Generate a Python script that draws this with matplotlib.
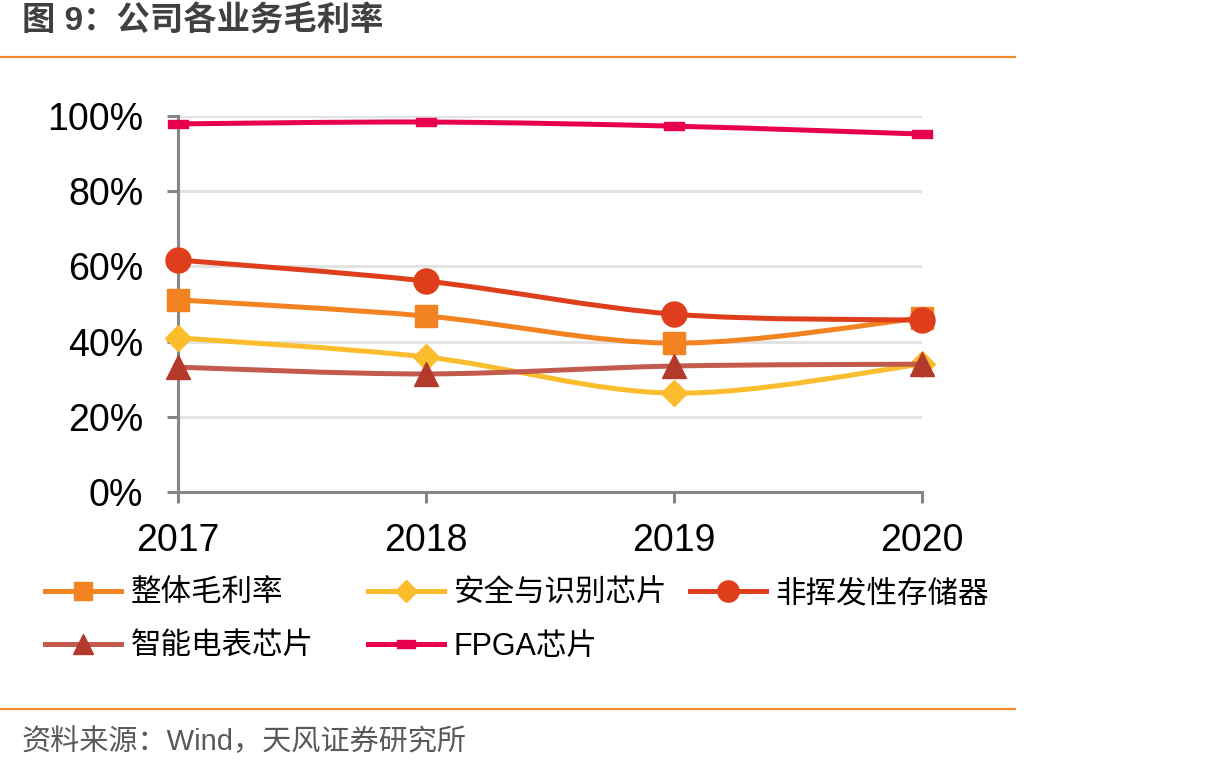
import numpy as np
import matplotlib
matplotlib.use("Agg")
import matplotlib.pyplot as plt
from matplotlib.path import Path
from matplotlib.patches import PathPatch
from matplotlib.lines import Line2D

plt.rcParams["font.family"] = ["Liberation Sans", "Noto Sans CJK SC"]

# === Data ===
years = ["2017", "2018", "2019", "2020"]
overall = [0.511, 0.468, 0.396, 0.463]     # 整体毛利率
security = [0.410, 0.359, 0.263, 0.340]    # 安全与识别芯片
memory = [0.617, 0.561, 0.473, 0.457]      # 非挥发性存储器
meter = [0.332, 0.314, 0.335, 0.340]       # 智能电表芯片
fpga = [0.979, 0.984, 0.973, 0.952]        # FPGA芯片

# short wide bar marker used by the FPGA series
DASH = Path([(-1, -0.42), (1, -0.42), (1, 0.42), (-1, 0.42), (-1, -0.42)],
            [Path.MOVETO, Path.LINETO, Path.LINETO, Path.LINETO, Path.CLOSEPOLY])

series = [
    ("整体毛利率", overall, "#F38321", "#F38321", "s", 16),
    ("安全与识别芯片", security, "#FBBC2D", "#FBBC2D", "D", 13),
    ("非挥发性存储器", memory, "#DE3E1B", "#DE3E1B", "o", 18),
    ("智能电表芯片", meter, "#C25B4E", "#B3392A", "^", 17),
    ("FPGA芯片", fpga, "#E8004F", "#E8004F", DASH, 15),
]


def smooth_path(xs, ys):
    """Catmull-Rom style cubic bezier through the points (Excel smoothed line look)"""
    pts = np.column_stack([xs, ys]).astype(float)
    ext = np.vstack([pts[0], pts, pts[-1]])
    verts = [pts[0]]
    codes = [Path.MOVETO]
    for i in range(len(pts) - 1):
        p0, p1, p2, p3 = ext[i], ext[i + 1], ext[i + 2], ext[i + 3]
        c1 = p1 + (p2 - p0) / 6.0
        c2 = p2 - (p3 - p1) / 6.0
        verts += [c1, c2, p2]
        codes += [Path.CURVE4] * 3
    return Path(verts, codes)


fig = plt.figure(figsize=(12.14, 7.72), dpi=100)
ax = fig.add_axes([178 / 1214, 1 - 492 / 772, (922 - 178) / 1214, (492 - 116) / 772])

x = np.arange(len(years))
for i, (name, vals, lc, mc, mk, ms) in enumerate(series):
    patch = PathPatch(smooth_path(x, vals), facecolor="none", edgecolor=lc,
                      lw=3.6, capstyle="round", zorder=3 + i, clip_on=False)
    ax.add_patch(patch)
    ax.plot(x, vals, ls="none", marker=mk, ms=ms, mfc=mc, mec=mc,
            zorder=3.5 + i, clip_on=False)

ax.set_xlim(0, 3)
ax.set_ylim(0, 1)
ax.set_xticks(x)
ax.set_xticklabels(years)
ax.set_yticks([0, 0.2, 0.4, 0.6, 0.8, 1.0])
ax.set_yticklabels(["0%", "20%", "40%", "60%", "80%", "100%"])
ax.yaxis.grid(True, color="#E3E3E3", lw=2.2)
ax.set_axisbelow(True)
for s in ["top", "right"]:
    ax.spines[s].set_visible(False)
for s in ["left", "bottom"]:
    ax.spines[s].set_color("#868686")
    ax.spines[s].set_linewidth(2.2)
ax.tick_params(axis="both", colors="#868686", width=2.2, length=8,
               labelsize=27, labelcolor="black")
ax.tick_params(axis="y", pad=17)
ax.tick_params(axis="x", pad=14)

# === Legend (Excel style fixed columns) ===
leg_pos = [(45, 594), (368, 594), (690, 594), (45, 647), (368, 647)]
for (name, vals, lc, mc, mk, ms), (px, py) in zip(series, leg_pos):
    h = Line2D([], [], color=lc, lw=3.6, marker=mk, ms=ms * 0.85, mfc=mc, mec=mc)
    fig.legend(handles=[h], labels=[name], loc="center left",
               bbox_to_anchor=(px / 1214, 1 - py / 772), frameon=False,
               fontsize=22, handlelength=2.5, handletextpad=0.3,
               borderpad=0, borderaxespad=0)

# === Title, rules and source ===
fig.text(22 / 1214, 1 - 22 / 772, "图 9：公司各业务毛利率", fontsize=24,
         fontweight="bold", color="#404040", va="center", ha="left")
fig.add_artist(Line2D([0, 1015 / 1214], [1 - 57 / 772] * 2, color="#F08A2C", lw=1.6))
fig.add_artist(Line2D([0, 1015 / 1214], [1 - 709 / 772] * 2, color="#F08A2C", lw=1.6))
fig.text(22 / 1214, 1 - 742 / 772, "资料来源：Wind，天风证券研究所", fontsize=21,
         color="#595959", va="center", ha="left")

fig.savefig("out.png", dpi=100)
